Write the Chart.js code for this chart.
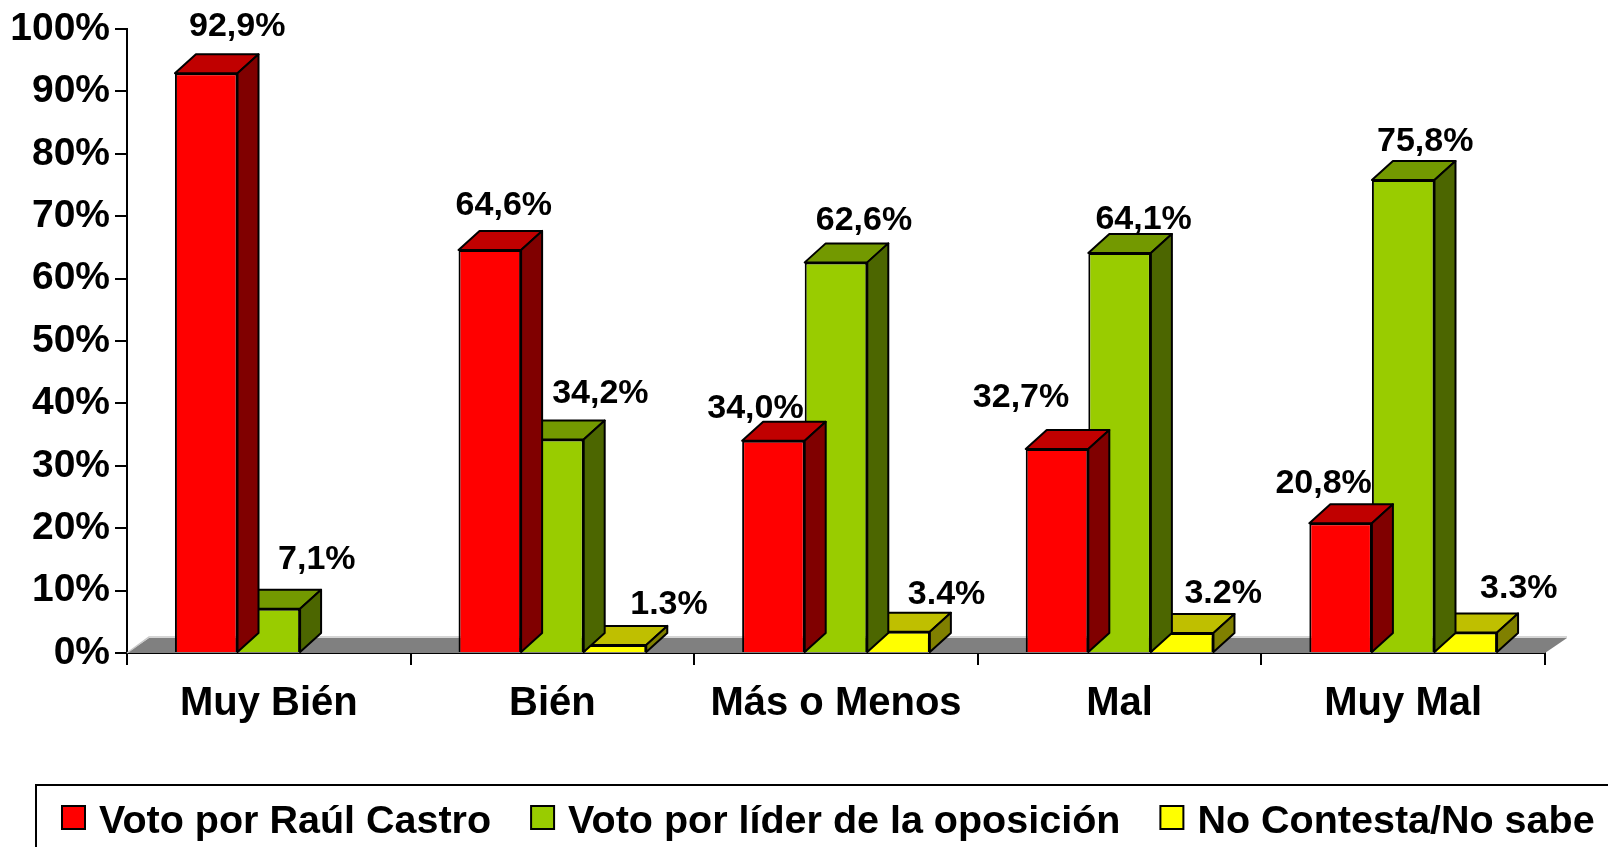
<!DOCTYPE html>
<html>
<head>
<meta charset="utf-8">
<script src="https://cdn.jsdelivr.net/npm/chart.js@4.4.1/dist/chart.umd.min.js"></script>
<style>
  html, body { margin: 0; padding: 0; background: #fff; }
</style>
</head>
<body>
<canvas id="chart" width="1608" height="847"></canvas>
<script>
const categories = ['Muy Bién', 'Bién', 'Más o Menos', 'Mal', 'Muy Mal'];
const seriesNames = ['Voto por Raúl Castro', 'Voto por líder de la oposición', 'No Contesta/No sabe'];
const castroVotes = [92.9, 64.6, 34.0, 32.7, 20.8];
const oppositionVotes = [7.1, 34.2, 62.6, 64.1, 75.8];
const noAnswer = [null, 1.3, 3.4, 3.2, 3.3];
const yMin = 0, yMax = 100, yStep = 10;

const FONT = '"Liberation Sans", Arial, sans-serif';
const DX = 21, DY = -19;            // bar depth
const FLOOR_DX = 22, FLOOR_DY = -15; // floor depth

// label nudges (px) so the value labels sit like the original's
const labelNudge = [
  { dx: [31, 14, -18, -36, -17], dy: [0, 3, 15, -4, 7] },
  { dx: [48, 48, 28, 24, 22], dy: [-2, 1, 5, 14, 9] },
  { dx: [0, 54, 48, 41, 53], dy: [0, 7, 10, 8, 3] }
];

function poly(ctx, pts, fill) {
  ctx.beginPath();
  ctx.moveTo(pts[0][0], pts[0][1]);
  for (let i = 1; i < pts.length; i++) ctx.lineTo(pts[i][0], pts[i][1]);
  ctx.closePath();
  ctx.fillStyle = fill;
  ctx.fill();
  ctx.stroke();
}

// fake 3d: floor, bar tops/sides, value labels
const depth3d = {
  id: 'depth3d',
  beforeDatasetsDraw(chart) {
    const { ctx, chartArea: a } = chart;
    const y0 = chart.scales.y.getPixelForValue(0);
    ctx.save();
    ctx.fillStyle = '#808080';
    ctx.beginPath();
    ctx.moveTo(a.left, y0);
    ctx.lineTo(a.left + FLOOR_DX, y0 + FLOOR_DY);
    ctx.lineTo(a.right + FLOOR_DX, y0 + FLOOR_DY);
    ctx.lineTo(a.right, y0);
    ctx.closePath();
    ctx.fill();
    ctx.strokeStyle = '#c8c8c8';
    ctx.lineWidth = 1.5;
    ctx.beginPath();
    ctx.moveTo(a.left, y0);
    ctx.lineTo(a.left + FLOOR_DX, y0 + FLOOR_DY - 1);
    ctx.lineTo(a.right + FLOOR_DX, y0 + FLOOR_DY - 1);
    ctx.stroke();
    ctx.restore();
  },
  afterDatasetDraw(chart, args) {
    const ctx = chart.ctx;
    const ds = chart.data.datasets[args.index];
    ctx.save();
    ctx.strokeStyle = '#000';
    ctx.lineWidth = 2;
    ctx.lineJoin = 'round';
    args.meta.data.forEach((bar, i) => {
      if (ds.data[i] == null) return;
      const { x, y, base, width } = bar.getProps(['x', 'y', 'base', 'width'], true);
      const l = x - width / 2, r = x + width / 2;
      poly(ctx, [[l, y], [l + DX, y + DY], [r + DX, y + DY], [r, y]], ds.topColor);
      poly(ctx, [[r, y], [r + DX, y + DY], [r + DX, base + DY], [r, base]], ds.sideColor);
    });
    ctx.restore();
  },
  afterDatasetsDraw(chart) {
    const ctx = chart.ctx;
    ctx.save();
    ctx.fillStyle = '#000';
    ctx.font = 'bold 34px ' + FONT;
    ctx.textAlign = 'center';
    ctx.textBaseline = 'middle';
    chart.data.datasets.forEach((ds, di) => {
      const n = labelNudge[di];
      chart.getDatasetMeta(di).data.forEach((bar, i) => {
        const v = ds.data[i];
        if (v == null) return;
        const txt = v.toFixed(1).replace('.', ds.decimalSep) + '%';
        ctx.fillText(txt, bar.x + n.dx[i], bar.y - 47 + n.dy[i]);
      });
    });
    ctx.restore();
  }
};

// boxed legend along the bottom edge
const boxLegend = {
  id: 'boxLegend',
  afterDraw(chart) {
    const ctx = chart.ctx;
    ctx.save();
    ctx.strokeStyle = '#000';
    ctx.lineWidth = 2;
    ctx.strokeRect(36, 785, 1620, 100);
    ctx.font = 'bold 39.5px ' + FONT;
    ctx.textBaseline = 'alphabetic';
    let cx = 62;
    chart.data.datasets.forEach(ds => {
      ctx.fillStyle = ds.backgroundColor;
      ctx.fillRect(cx, 806, 23, 23);
      ctx.strokeRect(cx, 806, 23, 23);
      ctx.fillStyle = '#000';
      ctx.fillText(ds.label, cx + 37, 833);
      cx += 37 + ctx.measureText(ds.label).width + 40;
    });
    ctx.restore();
  }
};

new Chart(document.getElementById('chart'), {
  type: 'bar',
  data: {
    labels: categories,
    datasets: [
      { label: seriesNames[0], data: castroVotes, backgroundColor: '#ff0000',
        topColor: '#c00000', sideColor: '#800000', decimalSep: ',' },
      { label: seriesNames[1], data: oppositionVotes, backgroundColor: '#99cc00',
        topColor: '#739900', sideColor: '#4c6600', decimalSep: ',' },
      { label: seriesNames[2], data: noAnswer, backgroundColor: '#ffff00',
        topColor: '#bfbf00', sideColor: '#808000', decimalSep: '.' }
    ].map(d => Object.assign(d, { borderColor: '#000', borderWidth: 2 }))
  },
  options: {
    responsive: false,
    animation: false,
    devicePixelRatio: 1,
    datasets: { bar: { categoryPercentage: 0.662, barPercentage: 1.0 } },
    layout: { padding: { top: 29, right: 63, bottom: 120, left: 0 } },
    plugins: { legend: { display: false }, tooltip: { enabled: false } },
    scales: {
      x: {
        z: 1,
        grid: { drawOnChartArea: false, drawTicks: true, tickLength: 12, color: '#000', lineWidth: 2 },
        border: { color: '#000', width: 2 },
        ticks: { color: '#000', padding: 15, font: { family: FONT, size: 40, weight: 'bold' } },
        afterFit: s => { s.height = 74; }
      },
      y: {
        z: 1,
        min: yMin, max: yMax,
        grid: { drawOnChartArea: false, drawTicks: true, tickLength: 12, color: '#000', lineWidth: 2 },
        border: { color: '#000', width: 2 },
        ticks: { stepSize: yStep, color: '#000', padding: 5,
          font: { family: FONT, size: 39, weight: 'bold' },
          callback: v => v + '%' },
        afterFit: s => { s.width = 127; }
      }
    }
  },
  plugins: [depth3d, boxLegend]
});
</script>
</body>
</html>
